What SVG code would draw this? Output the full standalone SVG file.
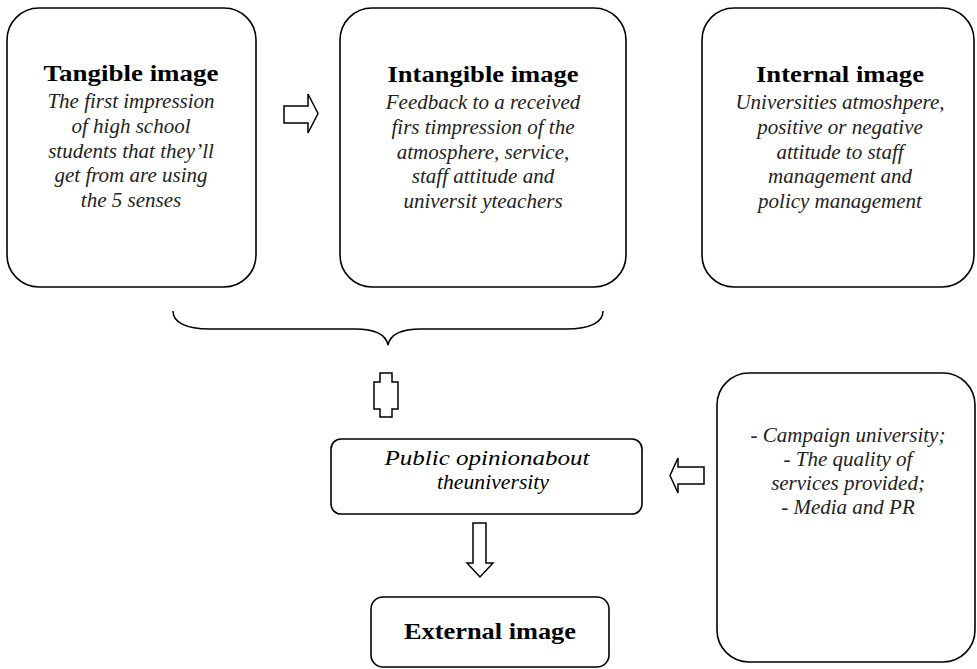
<svg xmlns="http://www.w3.org/2000/svg" width="977" height="669" viewBox="0 0 977 669">
<style>
.box{fill:#fff;stroke:#000;stroke-width:1.6}
.conn{fill:#fff;stroke:#000;stroke-width:1.5}
.brace{fill:none;stroke:#000;stroke-width:1.6}
.t{font-family:"Liberation Serif","Times New Roman",serif;font-weight:bold;font-size:23px;text-anchor:middle;fill:#000}
.i{font-family:"Liberation Serif","Times New Roman",serif;font-style:italic;font-size:21px;text-anchor:middle;fill:#222}
.p{font-family:"Liberation Serif","Times New Roman",serif;font-style:italic;font-size:21px;text-anchor:middle;fill:#000}
</style>
<rect width="977" height="669" fill="#fff"/>
<g id="tangible">
<rect class="box" x="7" y="8" width="249" height="279" rx="32"/>
<text class="t" x="131" y="81" textLength="175" lengthAdjust="spacingAndGlyphs">Tangible image</text>
<text class="i" x="131" y="108">The first impression</text>
<text class="i" x="131" y="133">of high school</text>
<text class="i" x="131" y="158">students that they’ll</text>
<text class="i" x="131" y="182">get from are using</text>
<text class="i" x="131" y="207">the 5 senses</text>
</g>
<g id="intangible">
<rect class="box" x="340" y="8" width="286" height="279" rx="32"/>
<text class="t" x="483" y="82" textLength="191" lengthAdjust="spacingAndGlyphs">Intangible image</text>
<text class="i" x="483" y="109">Feedback to a received</text>
<text class="i" x="483" y="134">firs timpression of the</text>
<text class="i" x="483" y="159">atmosphere, service,</text>
<text class="i" x="483" y="183">staff attitude and</text>
<text class="i" x="483" y="208">universit yteachers</text>
</g>
<g id="internal">
<rect class="box" x="702" y="8" width="272" height="279" rx="32"/>
<text class="t" x="840" y="82" textLength="168" lengthAdjust="spacingAndGlyphs">Internal image</text>
<text class="i" x="840" y="109">Universities atmoshpere,</text>
<text class="i" x="840" y="134">positive or negative</text>
<text class="i" x="840" y="159">attitude to staff</text>
<text class="i" x="840" y="183">management and</text>
<text class="i" x="840" y="208">policy management</text>
</g>
<g id="public-opinion">
<rect class="box" x="331" y="439" width="311" height="75" rx="10"/>
<text class="p" x="487" y="465" textLength="205" lengthAdjust="spacingAndGlyphs">Public opinionabout</text>
<text class="p" x="493" y="489" textLength="112" lengthAdjust="spacingAndGlyphs">theuniversity</text>
</g>
<g id="external">
<rect class="box" x="371" y="597" width="238" height="70" rx="12"/>
<text class="t" x="490" y="639" textLength="172" lengthAdjust="spacingAndGlyphs">External image</text>
</g>
<g id="factors">
<rect class="box" x="717" y="373" width="258" height="289" rx="32"/>
<text class="i" x="848" y="442">- Campaign university;</text>
<text class="i" x="848" y="466">- The quality of</text>
<text class="i" x="848" y="490">services provided;</text>
<text class="i" x="848" y="514">- Media and PR</text>
</g>
<g id="connectors">
<polygon class="conn" points="284,106 308,106 308,94 318,113.5 308,133 308,123 284,123"/>
<path class="brace" d="M173,311 C173,322 185,329 210,329 L355,329 C375,329 386,335 388,345 C390,335 401,329 421,329 L566,329 C591,329 603,322 603,311"/>
<polygon class="conn" points="380,373 392,373 392,382 398,382 398,409 392,409 392,417 380,417 380,409 374,409 374,382 380,382"/>
<polygon class="conn" points="704,467 678,467 678,458 670,475.5 678,493 678,484 704,484"/>
<polygon class="conn" points="473,523 486,523 486,563 493,563 480,577 467,563 473,563"/>
</g>
</svg>
